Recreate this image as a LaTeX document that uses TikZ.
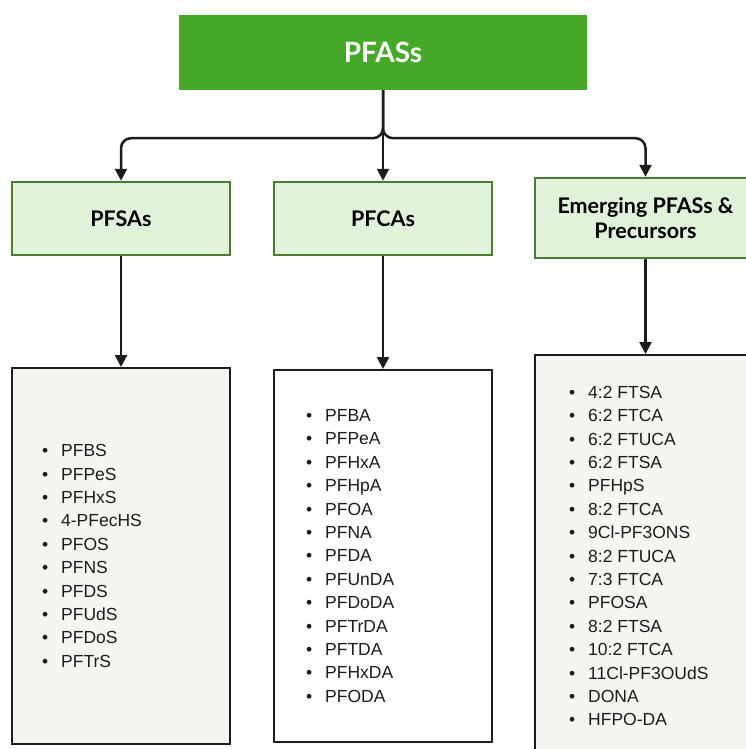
\documentclass[tikz,border=0pt]{standalone}
\usepackage{fontspec}
\setmainfont{Liberation Sans}
\newfontfamily\hdrfont{Lato}
\usetikzlibrary{arrows.meta}

\definecolor{topgreen}{RGB}{69,168,41}
\definecolor{catfill}{RGB}{224,243,218}
\definecolor{catborder}{RGB}{74,124,50}
\definecolor{listfill}{RGB}{244,246,241}
\definecolor{inkgray}{RGB}{28,28,28}

\newcommand{\bul}{\makebox[19pt][l]{\textbullet}}
\newcommand{\itm}[1]{\bul#1\\}

\begin{document}
\begin{tikzpicture}[x=1pt,y=-1pt,
  topbox/.style={fill=topgreen, minimum width=408pt, minimum height=75pt,
    text=white, font=\hdrfont\bfseries\fontsize{28}{32}\selectfont},
  catbox/.style={draw=catborder, fill=catfill, line width=2.5pt,
    minimum width=218pt, minimum height=73pt, align=center,
    font=\hdrfont\bfseries\fontsize{21.5}{25}\selectfont},
  listbox/.style={draw=inkgray, line width=2pt, minimum width=218pt},
  listtext/.style={anchor=west, inner sep=0pt, align=left, text=inkgray,
    font=\fontsize{17.5}{23.4}\selectfont},
  arr/.style={-{Triangle[length=12pt,width=12pt]}, line width=2.5pt, draw=inkgray},
]
\useasboundingbox (0,0) rectangle (745,749);

% top:
\node[topbox] (pfas) at (383,52.5) {PFASs};

% categories:
\node[catbox] (pfsa) at (121,218.5) {PFSAs};
\node[catbox] (pfca) at (383,218.5) {PFCAs};
\node[catbox, minimum width=221pt, minimum height=80pt] (emerg) at (645.5,218) {Emerging PFASs \&\\Precursors};

\draw[arr, rounded corners=10pt] (pfas.south) -- ++(0,48) -| (pfsa.north);
\draw[arr] (pfas.south) -- (pfca.north);
\draw[arr, rounded corners=10pt] (pfas.south) -- ++(0,48) -| (emerg.north);

% lists:
\node[listbox, fill=listfill, minimum height=376pt] (sabox) at (121,556) {};
\node[listbox, fill=white, minimum height=372pt] (cabox) at (383,556) {};
\node[listbox, fill=listfill, minimum width=221pt, minimum height=404pt] (embox) at (645.5,557) {};

\draw[arr] (pfsa.south) -- (sabox.north);
\draw[arr] (pfca.south) -- (cabox.north);
\draw[arr] (emerg.south) -- (embox.north);

\node[listtext] (salist) at (42,556) {\itm{PFBS}\itm{PFPeS}\itm{PFHxS}\itm{4-PFecHS}\itm{PFOS}%
  \itm{PFNS}\itm{PFDS}\itm{PFUdS}\itm{PFDoS}\bul PFTrS};
\node[listtext] (calist) at (306,556) {\itm{PFBA}\itm{PFPeA}\itm{PFHxA}\itm{PFHpA}\itm{PFOA}\itm{PFNA}%
  \itm{PFDA}\itm{PFUnDA}\itm{PFDoDA}\itm{PFTrDA}\itm{PFTDA}\itm{PFHxDA}\bul PFODA};
\node[listtext] (emlist) at (569,556) {\itm{4:2 FTSA}\itm{6:2 FTCA}\itm{6:2 FTUCA}\itm{6:2 FTSA}%
  \itm{PFHpS}\itm{8:2 FTCA}\itm{9Cl-PF3ONS}\itm{8:2 FTUCA}\itm{7:3 FTCA}\itm{PFOSA}%
  \itm{8:2 FTSA}\itm{10:2 FTCA}\itm{11Cl-PF3OUdS}\itm{DONA}\bul HFPO-DA};

\end{tikzpicture}
\end{document}
